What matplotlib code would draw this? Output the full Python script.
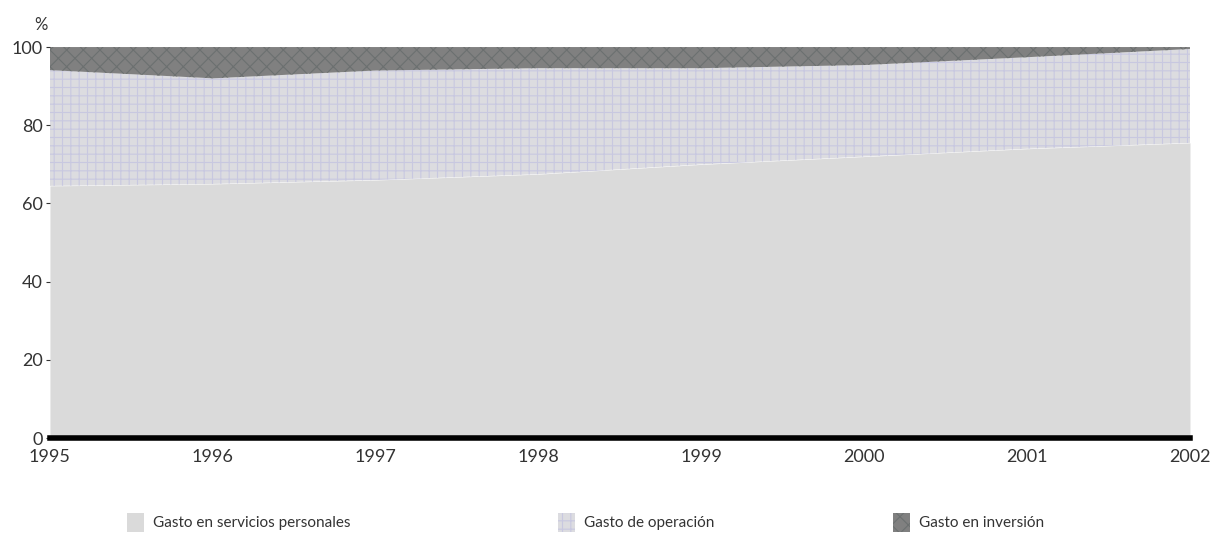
import numpy as np
import matplotlib.pyplot as plt
from matplotlib.patches import Patch

plt.rcParams['font.family'] = ['Lato', 'DejaVu Sans']
plt.rcParams['hatch.linewidth'] = 0.8

years = [1995, 1996, 1997, 1998, 1999, 2000, 2001, 2002]
# cumulative shares (%)
servicios_personales = [64.5, 65.0, 66.0, 67.5, 70.0, 72.0, 74.0, 75.5]
operacion = [29.6, 27.0, 28.0, 27.1, 24.6, 23.4, 23.4, 24.0]
inversion = [5.9, 8.0, 6.0, 5.4, 5.4, 4.6, 2.6, 0.5]

labels = ["Gasto en servicios personales", "Gasto de operación", "Gasto en inversión"]

fig = plt.figure(figsize=(12.18, 5.47), dpi=100)
ax = fig.add_axes([0.041, 0.199, 0.936, 0.715])

x = np.array(years)
s1 = np.array(servicios_personales)
s2 = s1 + np.array(operacion)
s3 = s2 + np.array(inversion)

styles = [
    dict(facecolor="#dadada", edgecolor="#dadada"),
    dict(facecolor="#dcdce0", edgecolor="#c8c8e0", hatch="++"),
    dict(facecolor="#808080", edgecolor="#6c7070", hatch="xx"),
]

ax.fill_between(x, 0, s1, lw=0, **styles[0])
ax.fill_between(x, s1, s2, lw=0, **styles[1])
ax.fill_between(x, s2, s3, lw=0, **styles[2])

ax.set_xlim(1995, 2002)
ax.set_ylim(0, 100)

for sp in ["left", "top", "right"]:
    ax.spines[sp].set_visible(False)
ax.spines["bottom"].set_linewidth(4)
ax.spines["bottom"].set_color("black")

ax.set_yticks([0, 20, 40, 60, 80, 100])
ax.tick_params(axis="y", length=3, width=0.8, pad=2, labelsize=13, colors="#333333")
ax.set_xticks(years)
ax.set_xticklabels([str(y) for y in years])
ax.tick_params(axis="x", length=0, pad=8, labelsize=13, colors="#333333")

fig.text(0.034, 0.955, "%", fontsize=12, color="#333333", ha="center", va="center")

anchors = [0.093, 0.447, 0.722]
for lab, st, ax0 in zip(labels, styles, anchors):
    fig.legend(handles=[Patch(label=lab, lw=0, **st)], loc="center left",
               bbox_to_anchor=(ax0, 0.045), frameon=False, fontsize=11,
               handlelength=1.1, handleheight=1.5, handletextpad=0.6,
               labelcolor="#333333")

fig.savefig("out.png", dpi=100)
